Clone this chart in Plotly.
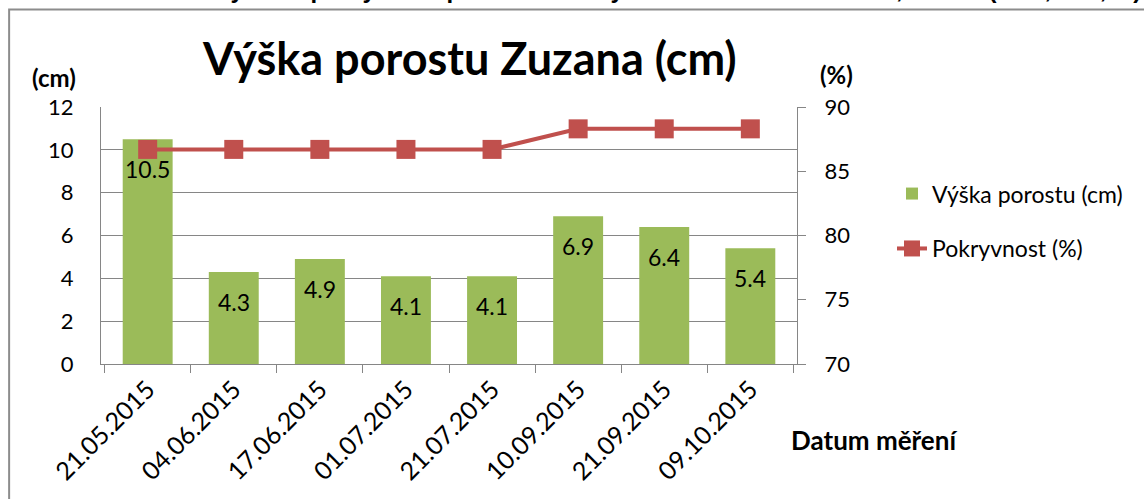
import plotly.graph_objects as go

# ---- data ----
dates = ["21.05.2015", "04.06.2015", "17.06.2015", "01.07.2015",
         "21.07.2015", "10.09.2015", "21.09.2015", "09.10.2015"]
vyska = [10.5, 4.3, 4.9, 4.1, 4.1, 6.9, 6.4, 5.4]
pokryvnost = [86.7, 86.7, 86.7, 86.7, 86.7, 88.3, 88.3, 88.3]
left_ticks = [0, 2, 4, 6, 8, 10, 12]
right_ticks = [70, 75, 80, 85, 90]

GREEN = "#9BBB59"
RED = "#C0504D"
GRID = "#868686"
FONT = "Lato"
HIDE = 26  # px of the figure hidden above the window top
T = 107 + HIDE
PH = 257  # plot height in px

fig = go.Figure()
fig.add_trace(go.Bar(
    x=dates, y=vyska, name="Výška porostu (cm)",
    marker=dict(color=GREEN, line=dict(width=0)),
    width=0.58, legendgroup="a",
))
fig.add_trace(go.Scatter(
    x=dates, y=pokryvnost, name="Pokryvnost (%)", yaxis="y2",
    mode="lines+markers",
    line=dict(color=RED, width=4),
    marker=dict(symbol="square", size=19, color=RED),
    legendgroup="b",
))

annotations = []
for d, v in zip(dates, vyska):
    annotations.append(dict(
        x=d, y=v, xref="x", yref="y", text=f"{v:.1f}", showarrow=False,
        xanchor="center", yanchor="top", yshift=-14,
        font=dict(family=FONT, size=23, color="black"),
    ))

def pap(text, x, y, size, family=FONT, xa="center", ya="middle"):
    return dict(text=text, x=x, y=y, xref="paper", yref="paper", showarrow=False,
                xanchor=xa, yanchor=ya, font=dict(family=family, size=size, color="black"))

annotations += [
    pap("<b>Výška porostu Zuzana (cm)</b>", 0.530, 1.19, 45),
    pap("<b>(cm)</b>", -0.068, 1.113, 24),
    pap("<b>(%)</b>", 1.057, 1.125, 24),
    pap("<b>Datum měření</b>", 1.110, -0.296, 26),
    pap("<b>Graf 17 – Průměrná výška a pokryvnost porostu odrůdy Zuzana dle data měření, Anova (LSD, α=0,05).</b>",
        0.672, 1 + T / PH, 24, family="Liberation Sans", ya="top"),
]

fig.update_layout(
    width=1144, height=499 + HIDE,
    margin=dict(l=101, r=347, t=T, b=135),
    paper_bgcolor="white", plot_bgcolor="white",
    font=dict(family=FONT, size=22, color="black"),
    showlegend=True,
    legend=dict(x=1.1365, y=0.556, xanchor="left", yanchor="middle",
                font=dict(family=FONT, size=23), tracegroupgap=22, itemwidth=30,
                traceorder="grouped", bgcolor="rgba(0,0,0,0)"),
    xaxis=dict(type="category", showline=True, linecolor=GRID, linewidth=1,
               ticks="outside", ticklen=8, tickcolor=GRID, tickson="boundaries",
               tickangle=-45, tickfont=dict(family=FONT, size=25),
               showgrid=False),
    yaxis=dict(range=[0, 12], tickvals=left_ticks, showgrid=True, gridcolor=GRID,
               gridwidth=1, showline=True, linecolor=GRID, linewidth=1,
               ticks="", ticklabelstandoff=22, tickfont=dict(family=FONT, size=22),
               zeroline=False),
    yaxis2=dict(range=[70, 90], tickvals=right_ticks, overlaying="y", side="right",
                showgrid=False, showline=True, linecolor=GRID, linewidth=1,
                ticks="outside", ticklen=8, tickcolor=GRID, ticklabelstandoff=14,
                tickfont=dict(family=FONT, size=22), zeroline=False),
    annotations=annotations,
    shapes=[dict(type="rect", xref="paper", yref="paper", x0=-0.132, x1=1.6,
                 y0=-1.0, y1=1.379, line=dict(color="#8C8C8C", width=2),
                 fillcolor="rgba(0,0,0,0)", layer="below")],
)

post = ("document.body.style.margin='0';document.body.style.overflow='hidden';"
        "var g=document.getElementsByClassName('plotly-graph-div')[0];"
        "if(g){g.style.marginTop='-%dpx';}" % HIDE)
fig.write_html("out.html", post_script=post, config={"displayModeBar": False})
